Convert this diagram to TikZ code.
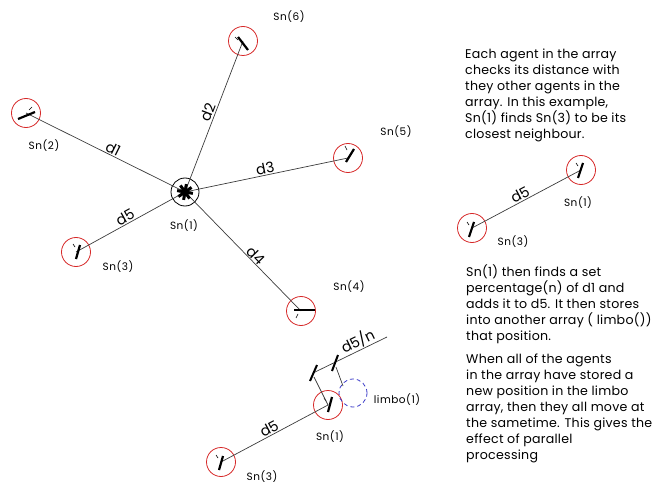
\documentclass[tikz,border=0pt]{standalone}
\usepackage{fontspec}
\setmainfont{Poppins}
\newfontfamily\bodyfont[LetterSpace=2]{Poppins}
\newfontfamily\tagfont[LetterSpace=5]{Poppins}
\begin{document}
\begin{tikzpicture}[x=1pt,y=-1pt,
  agent/.style={circle,draw=agentred,line width=0.8pt,minimum size=29pt,inner sep=0pt},
  hub/.style={circle,draw=black,line width=0.8pt,minimum size=28pt,inner sep=0pt},
  limbo/.style={circle,draw=limboblue,dashed,dash pattern=on 4pt off 3pt,line width=0.8pt,minimum size=28pt,inner sep=0pt},
  link/.style={draw=linkgray,line width=0.7pt},
  heading/.style={line width=2.2pt,black},
  tickmark/.style={line width=0.6pt,black},
  lbl/.style={font=\tagfont\fontsize{10.5}{12}\selectfont,inner sep=0pt},
  dist/.style={font=\fontsize{14.5}{15}\selectfont,inner sep=1pt,sloped,above},
  para/.style={font=\bodyfont\fontsize{12.6}{16}\selectfont,align=left,anchor=north west,inner sep=0pt}]
\definecolor{agentred}{RGB}{214,40,40}
\definecolor{linkgray}{RGB}{60,60,60}
\definecolor{limboblue}{RGB}{60,60,200}
\useasboundingbox (0,0) rectangle (659,484);

% ---- swarm: Sn(1) and its neighbours ----
\coordinate (h) at (185,192);
\node[agent] (s6) at (243,41) {};
\node[agent] (s2) at (26,113) {};
\node[agent] (s5) at (348,158) {};
\node[agent] (s3) at (76,252) {};
\node[agent] (s4) at (301,311) {};
\node[hub] (s1) at (h) {};

\draw[link] (s1.center) -- node[dist,pos=0.47] (d1) {d1} (s2.center);
\draw[link] (s1.center) -- node[dist,pos=0.51] (d2) {d2} (s6.center);
\draw[link] (s1.center) -- node[dist,pos=0.5] (d3) {d3} (s5.center);
\draw[link] (s1.center) -- node[dist,pos=0.57] (d4) {d4} (s4.center);
\draw[link] (s3.center) -- node[dist,pos=0.48] (d5) {d5} (s1.center);

% heading marks inside each agent
\draw[heading] (238,37) -- (248,50);  \draw[tickmark] (235,37) -- (238,40);
\draw[heading] (18,119) -- (35,112);  \draw[tickmark] (29,110) -- (32,107);
\draw[heading] (354,149) -- (346,162);\draw[tickmark] (345,146) -- (347,150);
\draw[heading] (80,245) -- (76,259);  \draw[tickmark] (73,244) -- (75,247);
\draw[heading] (294,310) -- (315,310);\draw[tickmark] (298,314) -- (296,318);
% Sn(1) marker
\foreach \a in {10,55,100,145}
  \draw[line width=3pt] ([shift={(\a:8)}]h) -- ([shift={(\a+180:8)}]h);
\fill (h) circle (4pt);

\node[lbl] (l6) at (289,17) {Sn(6)};
\node[lbl] (l2) at (44,146) {Sn(2)};
\node[lbl] (l5) at (396,132) {Sn(5)};
\node[lbl] (l3) at (118,267) {Sn(3)};
\node[lbl] (l1) at (184,226) {Sn(1)};
\node[lbl] (l4) at (349,287) {Sn(4)};

% ---- closest neighbour ----
\node[agent] (n1) at (581,170) {};
\node[agent] (n3) at (472,228) {};
\draw[link] (n3.center) -- node[dist,pos=0.47] (e5) {d5} (n1.center);
\draw[heading] (583,163) -- (578,178); \draw[tickmark] (576,163) -- (578,166);
\draw[heading] (474,222) -- (469,237); \draw[tickmark] (467,222) -- (469,225);
\node[lbl] (m1) at (578,203) {Sn(1)};
\node[lbl] (m3) at (513,242) {Sn(3)};

% ---- new position in limbo ----
\node[agent] (b1) at (328,405) {};
\node[agent] (b3) at (221,462) {};
\node[limbo] (lb) at (353,393) {};
\draw[link] (b3.center) -- node[dist,pos=0.48] (f5) {d5} (b1.center);
\draw[heading] (332,397) -- (328,412); \draw[tickmark] (324,398) -- (326,401);
\draw[heading] (223,456) -- (219,470); \draw[tickmark] (216,455) -- (218,458);
\coordinate (t1) at (313,373);
\coordinate (t2) at (335,363);
\coordinate (dend) at (387,337);
\draw[link] (t1) -- node[dist,pos=0.66] (dn) {d5/n} (dend);
\draw[link] ([shift={(1,4)}]t1) -- (b1.center);
\draw[link] ([shift={(1,4)}]t2) -- (343,386);
\draw[line width=2pt] (310,381) -- (317,365);
\draw[line width=2pt] (332,371) -- (338,355);
\node[lbl] (k1) at (330,437) {Sn(1)};
\node[lbl] (k3) at (262,477) {Sn(3)};
\node[lbl] (kl) at (397,400) {limbo(1)};

% ---- explanation ----
\node[para] (p1) at (465,49) {Each agent in the array\\checks its distance with\\they other agents in the\\array.  In this example,\\Sn(1) finds Sn(3) to be its\\closest neighbour.};
\node[para] (p2) at (466,265) {Sn(1) then finds a set\\percentage(n) of d1 and\\adds it to d5. It then stores\\into another array ( limbo())\\that position.};
\node[para] (p3) at (466,354) {When all of the agents\\in the array have stored a\\new position in the limbo\\array, then they all move at\\the sametime. This gives the\\effect of parallel\\processing};
\end{tikzpicture}
\end{document}
